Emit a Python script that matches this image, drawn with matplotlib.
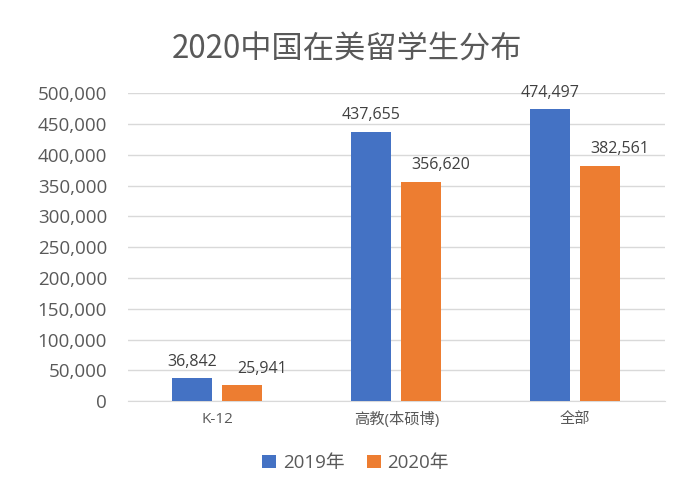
import matplotlib
matplotlib.use('Agg')
import matplotlib.pyplot as plt
import numpy as np

categories = ['K-12', '高教(本硕博)', '全部']
series_names = ['2019年', '2020年']
values_2019 = [36842, 437655, 474497]
values_2020 = [25941, 356620, 382561]
colors = ['#4472C4', '#ED7D31']

fam = ['Open Sans', 'Noto Sans CJK SC', 'DejaVu Sans']
plt.rcParams['font.family'] = fam

fig = plt.figure(figsize=(6.84, 4.88), dpi=100)
ax = fig.add_axes([0.187, 0.178, 0.785, 0.631])

x = np.arange(len(categories))
w = 0.223
off = 0.14
# 2020 labels sit a bit to the right of their bars, as in the original
label_dx = [0, 14]
for vals, name, c, d, dx in zip([values_2019, values_2020], series_names, colors,
                                [-off, off], label_dx):
    bars = ax.bar(x + d, vals, width=w, color=c, label=name, zorder=3)
    for b, v in zip(bars, vals):
        ax.annotate(f'{v:,}', (b.get_x() + b.get_width() / 2, v),
                    xytext=(dx, 6), textcoords='offset points',
                    ha='center', va='bottom', fontsize=11.5, color='#404040')

ax.set_xlim(-0.5, 2.5)
ax.set_ylim(0, 500000)
yt = np.arange(0, 500001, 50000)
ax.set_yticks(yt)
ax.set_yticklabels([f'{int(t):,}' for t in yt], fontsize=13.5, color='#595959')
ax.set_xticks(x)
ax.set_xticklabels(categories, fontsize=11, color='#595959')
ax.tick_params(axis='both', length=0)
ax.tick_params(axis='y', pad=15)
ax.tick_params(axis='x', pad=8)
ax.grid(axis='y', color='#D9D9D9', linewidth=1, zorder=0)
for s in ['top', 'right', 'left']:
    ax.spines[s].set_visible(False)
ax.spines['bottom'].set_color('#D9D9D9')

fig.text(0.508, 0.899, '2020中国在美留学生分布', ha='center', va='center',
         fontsize=22.5, color='#595959', family=['Noto Sans CJK SC', 'DejaVu Sans'])

leg = fig.legend(loc='center', bbox_to_anchor=(0.52, 0.051), ncol=2, frameon=False,
                 fontsize=13.5, handlelength=0.75, handleheight=0.75, columnspacing=1.2,
                 handletextpad=0.35)
for t in leg.get_texts():
    t.set_color('#595959')

fig.savefig('out.png', dpi=100)
